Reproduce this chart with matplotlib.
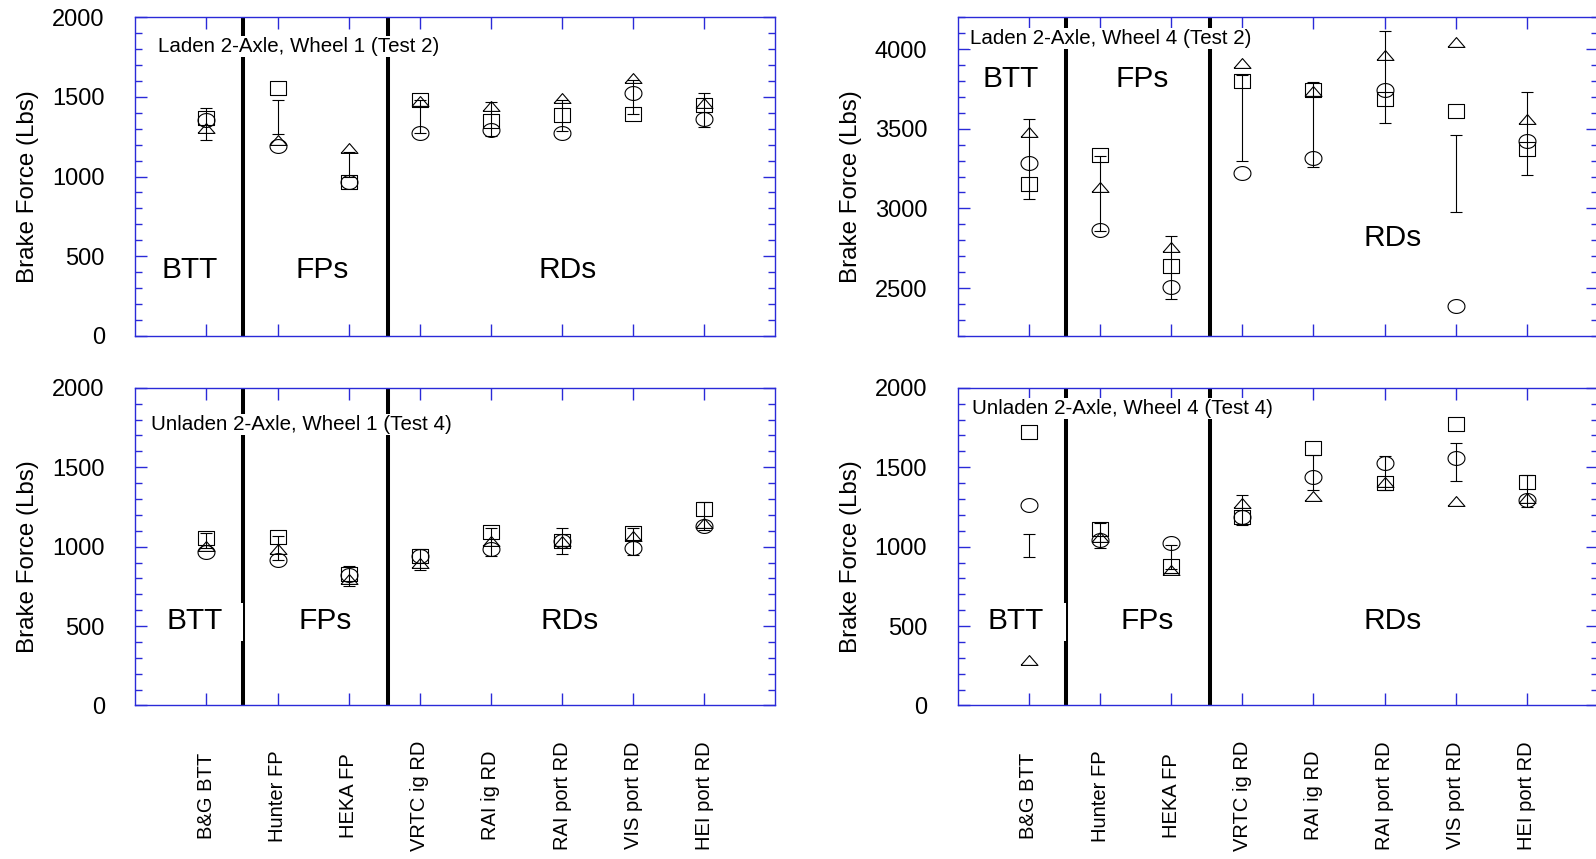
import numpy as np
import matplotlib
matplotlib.use('Agg')
import matplotlib.pyplot as plt
import matplotlib.transforms as mtransforms
from matplotlib.patches import Rectangle

plt.rcParams['font.family'] = ['Liberation Sans', 'DejaVu Sans']

categories = ['B&G BTT', 'Hunter FP', 'HEKA FP', 'VRTC ig RD',
              'RAI ig RD', 'RAI port RD', 'VIS port RD', 'HEI port RD']

# Laden 2-Axle, Wheel 1 (Test 2)
w1t2_square = [1368, 1557, 967, 1480, 1347, 1385, 1391, 1452]
w1t2_circle = [1354, 1190, 965, 1274, 1291, 1274, 1526, 1360]
w1t2_triangle = [1305, 1228, 1179, 1475, 1442, 1496, 1620, 1459]
w1t2_hi = [1433, 1480, 1154, 1480, 1469, 1480, 1605, 1526]
w1t2_lo = [1232, 1270, 997, 1276, 1257, 1286, 1391, 1312]

# Laden 2-Axle, Wheel 4 (Test 2)
w4t2_square = [3153, 3333, 2641, 3801, 3742, 3690, 3610, 3375]
w4t2_circle = [3287, 2865, 2508, 3222, 3317, 3742, 2389, 3424]
w4t2_triangle = [3480, 3134, 2756, 3910, 3738, 3963, 4043, 3564]
w4t2_hi = [3564, 3331, 2825, 3835, 3795, 4116, 3459, 3730]
w4t2_lo = [3060, 2861, 2431, 3298, 3260, 3539, 2976, 3207]

# Unladen 2-Axle, Wheel 1 (Test 4)
w1t4_square = [1054, 1061, 828, 943, 1092, 1033, 1088, 1236]
w1t4_circle = [964, 914, 824, 939, 985, 1033, 992, 1128]
w1t4_triangle = [1002, 987, 799, 897, 1033, 1037, 1065, 1148]
w1t4_hi = [1086, 1065, 877, 987, 1117, 1117, 1117, 1278]
w1t4_lo = [992, 918, 751, 851, 939, 956, 950, 1107]

# Unladen 2-Axle, Wheel 4 (Test 4)
w4t4_square = [1724, 1113, 877, 1184, 1619, 1400, 1770, 1410]
w4t4_circle = [1264, 1044, 1023, 1184, 1441, 1529, 1556, 1295]
w4t4_triangle = [285, 1059, 851, 1274, 1316, 1406, 1289, 1306]
w4t4_hi = [1079, 1148, 1013, 1322, 1577, 1571, 1651, 1452]
w4t4_lo = [933, 992, 856, 1138, 1358, 1354, 1414, 1249]

# group dividers (BTT | FPs | RDs)
dividers = [1.52, 3.55]

blue = '#2a2ad8'
x = np.arange(1, len(categories) + 1)

# markers are a bit wider than tall in the original
t = np.linspace(0, 2 * np.pi, 41)
ellipse = list(zip(np.cos(t), 0.82 * np.sin(t)))
rect = [(-1, -0.82), (1, -0.82), (1, 0.82), (-1, 0.82), (-1, -0.82)]
tri = [(-1, -0.58), (1, -0.58), (0, 0.58), (-1, -0.58)]

fig = plt.figure(figsize=(15.96, 8.59), dpi=100)
ax_tl = fig.add_axes([0.0848, 0.609, 0.4011, 0.3709])
ax_tr = fig.add_axes([0.6001, 0.609, 0.4011, 0.3709])
ax_bl = fig.add_axes([0.0848, 0.1788, 0.4011, 0.3697])
ax_br = fig.add_axes([0.6001, 0.1788, 0.4011, 0.3697])

panels = [
    (ax_tl, w1t2_square, w1t2_circle, w1t2_triangle, w1t2_lo, w1t2_hi,
     (0, 2000), [0, 500, 1000, 1500, 2000], 'Laden 2-Axle, Wheel 1 (Test 2)',
     (0.035, 0.908), [(0.085, 0.207), (0.292, 0.207), (0.676, 0.207)], False),
    (ax_tr, w4t2_square, w4t2_circle, w4t2_triangle, w4t2_lo, w4t2_hi,
     (2200, 4200), [2500, 3000, 3500, 4000], 'Laden 2-Axle, Wheel 4 (Test 2)',
     (0.019, 0.934), [(0.082, 0.805), (0.288, 0.805), (0.680, 0.307)], False),
    (ax_bl, w1t4_square, w1t4_circle, w1t4_triangle, w1t4_lo, w1t4_hi,
     (0, 2000), [0, 500, 1000, 1500, 2000], 'Unladen 2-Axle, Wheel 1 (Test 4)',
     (0.024, 0.886), [(0.092, 0.265), (0.296, 0.265), (0.679, 0.265)], True),
    (ax_br, w4t4_square, w4t4_circle, w4t4_triangle, w4t4_lo, w4t4_hi,
     (0, 2000), [0, 500, 1000, 1500, 2000], 'Unladen 2-Axle, Wheel 4 (Test 4)',
     (0.023, 0.936), [(0.090, 0.265), (0.296, 0.265), (0.680, 0.265)], True),
]

for ax, sq, ci, tr, lo, hi, ylim, yt, title, tpos, gpos, bottom in panels:
    lo = np.array(lo)
    hi = np.array(hi)
    ax.errorbar(x, (lo + hi) / 2, yerr=(hi - lo) / 2, fmt='none', ecolor='k',
                elinewidth=0.8, capsize=4.3, capthick=0.8, zorder=4)
    for vals, mk in [(sq, rect), (ci, ellipse), (tr, tri)]:
        ax.plot(x, vals, linestyle='none', marker=mk, ms=12.2, mfc='none',
                mec='k', mew=0.8, zorder=4)

    for d in dividers:
        ax.axvline(d, color='k', lw=2.9, zorder=2)

    ax.set_xlim(0, 9)
    ax.set_ylim(*ylim)
    ax.set_xticks(x)
    ax.set_yticks(yt)
    ax.set_yticks(np.arange(ylim[0], ylim[1] + 1, 100), minor=True)
    for s in ax.spines.values():
        s.set_color(blue)
        s.set_linewidth(1.0)
    ax.tick_params(axis='both', which='both', direction='in', color=blue,
                   top=True, right=True, width=1.0)
    ax.tick_params(axis='y', which='major', length=8.6, labelsize=17, pad=22)
    ax.tick_params(axis='y', which='minor', length=4.8)
    ax.tick_params(axis='x', which='major', length=8.6)
    ax.set_ylabel('Brake Force (Lbs)', fontsize=17.4)
    ax.yaxis.set_label_coords(-0.150, 0.468)

    if bottom:
        ax.set_xticklabels(categories, rotation=90, fontsize=14.5,
                           va='center', ha='center')
        ax.tick_params(axis='x', which='major', pad=65)
        # white gap in the divider next to "BTT"
        trans = mtransforms.blended_transform_factory(ax.transData, ax.transAxes)
        ax.add_patch(Rectangle((0.9, 0.203), dividers[0] - 0.9, 0.119,
                               transform=trans, fc='white', ec='none',
                               zorder=2.5))
    else:
        ax.tick_params(labelbottom=False)

    ax.text(tpos[0], tpos[1], title, transform=ax.transAxes, fontsize=14.8,
            ha='left', va='center', zorder=3,
            bbox=dict(boxstyle='square,pad=0.05', fc='white', ec='none'))
    for (gx, gy), name in zip(gpos, ['BTT', 'FPs', 'RDs']):
        ax.text(gx, gy, name, transform=ax.transAxes, fontsize=21.5,
                ha='center', va='center', zorder=3)

fig.savefig('out.png', dpi=100)
